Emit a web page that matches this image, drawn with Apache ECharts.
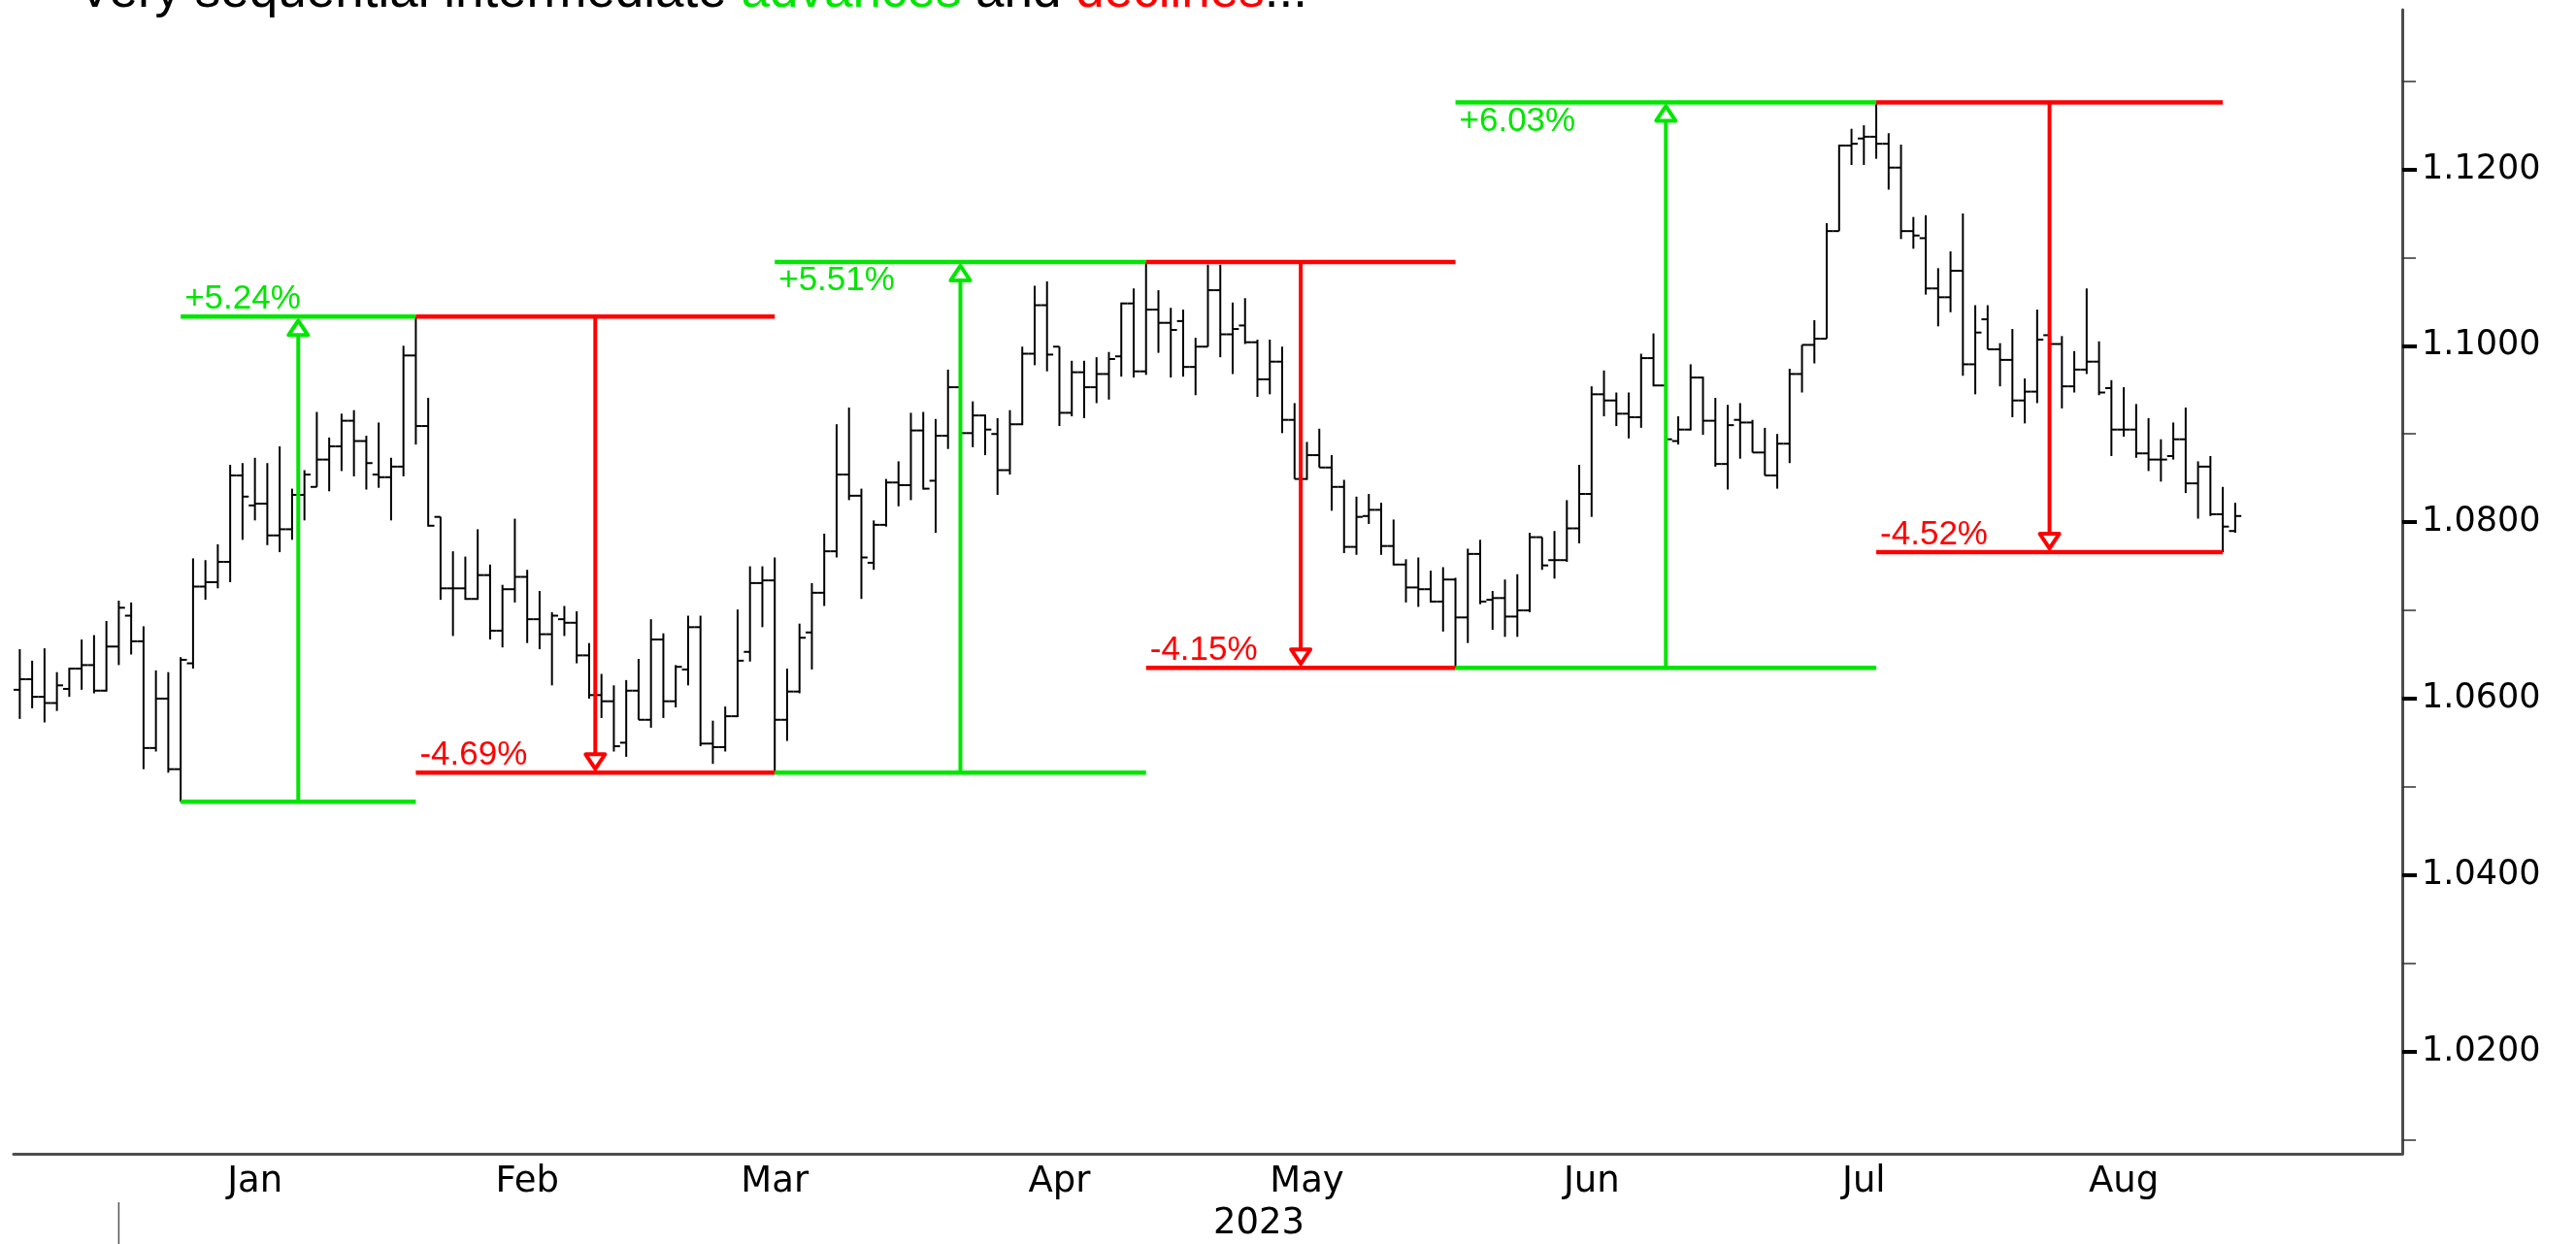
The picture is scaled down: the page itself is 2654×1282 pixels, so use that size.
<!DOCTYPE html>
<html lang="en">
<head>
<meta charset="UTF-8">
<title>EUR/USD swings 2023</title>
<script src="https://cdn.jsdelivr.net/npm/echarts@6.0.0/dist/echarts.min.js"></script>
<style>
html, body { margin: 0; padding: 0; background: #fff; }
#main { width: 2654px; height: 1282px; }
</style>
</head>
<body>
<div id="main"></div>
<script>
// daily bars, Dec 20 2022 .. Aug 28 2023 (one line per month)
var opens = [
    1.0610,1.0622,1.0602,1.0595,1.0611,1.0634,1.0638,1.0609,1.0659,
    1.0694,1.0665,1.0544,1.0600,1.0520,1.0640,1.0727,1.0732,1.0755,1.0853,1.0819,1.0821,1.0785,1.0792,1.0831,1.0840,1.0871,1.0886,1.0915,1.0892,1.0854,1.0851,
    1.0863,1.0989,1.0909,1.0806,1.0725,1.0725,1.0713,1.0740,1.0677,1.0724,1.0738,1.0690,1.0673,1.0690,1.0686,1.0649,1.0604,1.0597,1.0550,1.0609,
    1.0576,1.0667,1.0597,1.0633,1.0681,1.0549,1.0545,1.0580,1.0653,1.0731,1.0734,1.0576,1.0608,1.0675,1.0720,1.0767,1.0854,1.0830,1.0754,1.0797,1.0845,1.0842,1.0904,
    1.0847,1.0898,1.0953,1.0901,1.0921,1.0900,1.0859,1.0911,1.0991,1.1046,1.0999,1.0924,1.0970,1.0953,1.0968,1.0988,1.1048,1.0971,1.1041,1.1026,
    1.1028,1.0976,1.0999,1.1063,1.1013,1.1023,1.1004,1.0962,1.0982,1.0916,1.0849,1.0876,1.0862,1.0840,1.0772,1.0807,1.0814,1.0773,1.0752,1.0726,1.0724,1.0710,1.0735,
    1.0692,1.0764,1.0712,1.0714,1.0693,1.0700,1.0783,1.0757,1.0757,1.0793,1.0832,1.0945,1.0938,1.0923,1.0919,1.0986,1.0955,1.0892,1.0905,1.0964,1.0915,1.0866,
    1.0916,1.0913,1.0879,1.0853,1.0889,1.0968,1.1001,1.1008,1.1130,1.1227,1.1235,1.1237,1.1229,1.1202,1.1130,1.1122,1.1065,1.1055,1.1085,1.0979,1.1030,
    1.0996,1.0984,1.0938,1.0948,1.1012,1.1002,1.0954,1.0973,1.0982,1.0952,1.0905,1.0905,1.0878,1.0871,1.0875,1.0894,1.0844,1.0863,1.0809,1.0790
];
var highs = [
    1.0656,1.0643,1.0657,1.0630,1.0635,1.0667,1.0672,1.0688,1.0711,
    1.0709,1.0682,1.0632,1.0630,1.0647,1.0759,1.0757,1.0775,1.0865,1.0867,1.0873,1.0867,1.0886,1.0838,1.0859,1.0925,1.0896,1.0923,1.0927,1.0898,1.0913,1.0873,
    1.1000,1.1033,1.0941,1.0806,1.0767,1.0761,1.0792,1.0752,1.0729,1.0804,1.0746,1.0722,1.0698,1.0705,1.0699,1.0663,1.0628,1.0615,1.0621,1.0645,
    1.0690,1.0674,1.0638,1.0694,1.0694,1.0575,1.0591,1.0701,1.0750,1.0750,1.0760,1.0634,1.0685,1.0731,1.0787,1.0911,1.0930,1.0838,1.0802,1.0849,1.0869,1.0924,1.0925,
    1.0917,1.0973,1.0970,1.0937,1.0922,1.0918,1.0927,1.0999,1.1068,1.1073,1.0999,1.0983,1.0983,1.0987,1.0993,1.1049,1.1065,1.1095,1.1063,1.1043,
    1.1041,1.1009,1.1092,1.1092,1.1049,1.1054,1.1007,1.1007,1.0999,1.0935,1.0891,1.0906,1.0876,1.0848,1.0829,1.0832,1.0822,1.0803,1.0758,1.0760,1.0745,1.0749,1.0737,
    1.0770,1.0780,1.0722,1.0735,1.0741,1.0788,1.0783,1.0790,1.0825,1.0865,1.0954,1.0972,1.0947,1.0947,1.0991,1.1014,1.0960,1.0920,1.0979,1.0965,1.0941,1.0933,
    1.0935,1.0916,1.0907,1.0900,1.0974,1.1001,1.1029,1.1139,1.1228,1.1246,1.1250,1.1276,1.1241,1.1228,1.1146,1.1148,1.1088,1.1107,1.1150,1.1046,1.1046,
    1.1003,1.1019,1.0963,1.1041,1.1040,1.1011,1.0994,1.1065,1.1005,1.0961,1.0953,1.0934,1.0918,1.0894,1.0913,1.0930,1.0869,1.0875,1.0840,1.0822
];
var lows = [
    1.0577,1.0589,1.0573,1.0586,1.0602,1.0610,1.0606,1.0608,1.0638,
    1.0650,1.0520,1.0540,1.0516,1.0483,1.0634,1.0712,1.0725,1.0732,1.0780,1.0802,1.0774,1.0766,1.0780,1.0802,1.0840,1.0835,1.0858,1.0852,1.0837,1.0839,1.0802,
    1.0852,1.0888,1.0795,1.0712,1.0671,1.0712,1.0712,1.0667,1.0658,1.0709,1.0663,1.0656,1.0615,1.0671,1.0640,1.0600,1.0578,1.0540,1.0534,1.0576,
    1.0567,1.0578,1.0590,1.0615,1.0546,1.0526,1.0540,1.0579,1.0642,1.0681,1.0516,1.0552,1.0606,1.0633,1.0705,1.0760,1.0825,1.0713,1.0746,1.0795,1.0818,1.0825,1.0837,
    1.0788,1.0883,1.0880,1.0885,1.0876,1.0831,1.0854,1.0910,1.0978,1.0971,1.0909,1.0920,1.0918,1.0935,1.0939,1.0965,1.0964,1.0967,1.0992,1.0964,
    1.0965,1.0944,1.0999,1.0987,1.0968,1.1002,1.0942,1.0945,1.0901,1.0849,1.0848,1.0862,1.0813,1.0765,1.0763,1.0798,1.0763,1.0751,1.0709,1.0704,1.0709,1.0676,1.0635,
    1.0663,1.0707,1.0678,1.0670,1.0670,1.0698,1.0746,1.0736,1.0755,1.0776,1.0806,1.0920,1.0909,1.0895,1.0907,1.0954,1.0850,1.0888,1.0904,1.0899,1.0863,1.0837,
    1.0872,1.0879,1.0853,1.0838,1.0867,1.0947,1.0980,1.1008,1.1130,1.1205,1.1205,1.1212,1.1177,1.1121,1.1110,1.1058,1.1022,1.1038,1.0966,1.0945,1.0996,
    1.0954,1.0919,1.0912,1.0935,1.0980,1.0929,1.0947,1.0968,1.0944,1.0875,1.0897,1.0873,1.0858,1.0846,1.0871,1.0833,1.0804,1.0807,1.0766,1.0788
];
var closes = [
    1.0622,1.0602,1.0595,1.0615,1.0634,1.0638,1.0609,1.0659,1.0703,
    1.0665,1.0544,1.0600,1.0520,1.0644,1.0727,1.0732,1.0755,1.0853,1.0829,1.0821,1.0785,1.0792,1.0831,1.0854,1.0871,1.0886,1.0915,1.0892,1.0867,1.0851,1.0863,
    1.0989,1.0909,1.0796,1.0725,1.0725,1.0713,1.0740,1.0677,1.0724,1.0738,1.0690,1.0673,1.0694,1.0686,1.0649,1.0604,1.0597,1.0546,1.0609,1.0576,
    1.0667,1.0597,1.0636,1.0681,1.0549,1.0545,1.0580,1.0643,1.0731,1.0734,1.0576,1.0608,1.0669,1.0720,1.0767,1.0854,1.0830,1.0760,1.0797,1.0845,1.0842,1.0904,1.0838,
    1.0898,1.0953,1.0901,1.0921,1.0905,1.0859,1.0911,1.0991,1.1046,1.0990,1.0924,1.0970,1.0953,1.0968,1.0985,1.1048,1.0971,1.1041,1.1026,1.1018,
    1.0976,1.0999,1.1063,1.1013,1.1019,1.1004,1.0962,1.0982,1.0916,1.0849,1.0876,1.0862,1.0840,1.0772,1.0806,1.0814,1.0773,1.0752,1.0726,1.0724,1.0710,1.0735,1.0692,
    1.0764,1.0710,1.0714,1.0693,1.0700,1.0783,1.0751,1.0757,1.0793,1.0832,1.0945,1.0938,1.0923,1.0919,1.0986,1.0955,1.0894,1.0905,1.0964,1.0915,1.0866,1.0910,
    1.0913,1.0879,1.0853,1.0889,1.0968,1.1001,1.1008,1.1130,1.1227,1.1229,1.1237,1.1229,1.1202,1.1130,1.1125,1.1065,1.1055,1.1085,1.0979,1.1015,1.0996,
    1.0984,1.0938,1.0948,1.1007,1.1002,1.0954,1.0973,1.0982,1.0947,1.0905,1.0905,1.0878,1.0871,1.0871,1.0894,1.0844,1.0863,1.0809,1.0795,1.0807
];

// swings: bar index where it starts / ends, price from / to, label
var moveStart = [13, 32, 61, 91, 116, 150];
var moveEnd   = [32, 61, 91, 116, 150, 178];
var moveFrom  = [1.0483, 1.1033, 1.0516, 1.1095, 1.0635, 1.1276];
var moveTo    = [1.1033, 1.0516, 1.1095, 1.0635, 1.1276, 1.0766];
var moveText  = ['+5.24%', '-4.69%', '+5.51%', '-4.15%', '+6.03%', '-4.52%'];

var majorTicks = [1.02, 1.04, 1.06, 1.08, 1.10, 1.12];
var minorTicks = [1.01, 1.03, 1.05, 1.07, 1.09, 1.11, 1.13];
var monthNames = ['Jan', 'Feb', 'Mar', 'Apr', 'May', 'Jun', 'Jul', 'Aug'];
var headline = ['Very sequential intermediate ', 'advances', ' and ', 'declines', '...'];

var GREEN = '#00e600';
var RED = '#ff0000';
var AXIS_FONT = 'DejaVu Sans';

// weekday categories, axis runs a bit past the last bar
var axisDays = 193;
var dates = [];
for (var t = Date.UTC(2022, 11, 20); dates.length < axisDays; t += 86400000) {
    var wd = new Date(t).getUTCDay();
    if (wd !== 0 && wd !== 6) dates.push(new Date(t).toISOString().slice(0, 10));
}
function isMonthEnd(i) {
    return i + 1 < dates.length && dates[i].slice(5, 7) !== dates[i + 1].slice(5, 7);
}
function isMonthLabel(i) {
    var d = dates[i];
    if (d.slice(0, 4) !== '2023' || +d.slice(8, 10) < 15) return false;
    return i === 0 || dates[i - 1].slice(5, 7) !== d.slice(5, 7) || +dates[i - 1].slice(8, 10) < 15;
}

var bars = closes.map(function (c, i) {
    return [i, opens[i], highs[i], lows[i], c];
});
var moves = moveStart.map(function (s, i) {
    return [s, moveEnd[i], moveFrom[i], moveTo[i]];
});
var labelBelow = [false, false, true, false, true, false];

function renderBar(params, api) {
    var x = api.value(0);
    var o = api.coord([x, api.value(1)]);
    var h = api.coord([x, api.value(2)]);
    var l = api.coord([x, api.value(3)]);
    var c = api.coord([x, api.value(4)]);
    var half = api.size([1, 0])[0] / 2;
    var st = { stroke: '#000', lineWidth: 2 };
    return {
        type: 'group',
        children: [
            { type: 'line', shape: { x1: h[0], y1: h[1], x2: l[0], y2: l[1] }, style: st },
            { type: 'line', shape: { x1: o[0] - half, y1: o[1], x2: o[0], y2: o[1] }, style: st },
            { type: 'line', shape: { x1: c[0], y1: c[1], x2: c[0] + half, y2: c[1] }, style: st }
        ]
    };
}

function renderMove(params, api) {
    var i = params.dataIndex;
    var a = api.coord([api.value(0), api.value(2)]);
    var b = api.coord([api.value(1), api.value(3)]);
    var up = api.value(3) > api.value(2);
    var color = up ? GREEN : RED;
    var x1 = a[0], x2 = b[0], yFrom = a[1], yTo = b[1];
    var xm = (x1 + x2) / 2;
    var dir = up ? 1 : -1;
    var tip = yTo + dir * 4;
    var base = tip + dir * 15;
    var lw = 4.5;
    var below = labelBelow[i];
    return {
        type: 'group',
        children: [
            { type: 'line', shape: { x1: x1, y1: yFrom, x2: x2, y2: yFrom }, style: { stroke: color, lineWidth: lw } },
            { type: 'line', shape: { x1: x1, y1: yTo, x2: x2, y2: yTo }, style: { stroke: color, lineWidth: lw } },
            { type: 'line', shape: { x1: xm, y1: yFrom, x2: xm, y2: base }, style: { stroke: color, lineWidth: 4 } },
            { type: 'polygon', shape: { points: [[xm, tip], [xm - 10, base], [xm + 10, base]] },
              style: { fill: '#fff', stroke: color, lineWidth: 4, lineJoin: 'round' } },
            { type: 'text', x: x1 + 4, y: below ? yTo + 2 : yTo,
              style: { text: moveText[i], fill: color, fontSize: 35, fontFamily: 'Liberation Sans',
                       align: 'left', verticalAlign: below ? 'top' : 'bottom' } }
        ]
    };
}

var yMin = 1.0084, yMax = 1.1381;

var chart = echarts.init(document.getElementById('main'));
chart.setOption({
    animation: false,
    backgroundColor: '#fff',
    grid: { left: 14, right: 179, top: 10, bottom: 93 },
    xAxis: {
        type: 'category',
        data: dates,
        boundaryGap: true,
        axisLine: { lineStyle: { color: '#4d4d4d', width: 3 } },
        axisTick: {
            alignWithLabel: true,
            interval: function (i) { return isMonthEnd(i); },
            length: 12,
            lineStyle: { color: '#333', width: 1.5 }
        },
        axisLabel: {
            interval: function (i) { return isMonthLabel(i); },
            formatter: function (v) { return monthNames[+v.slice(5, 7) - 1]; },
            fontSize: 37,
            fontFamily: AXIS_FONT,
            color: '#000',
            margin: 11
        },
        splitLine: { show: false }
    },
    yAxis: [{
        type: 'value',
        position: 'right',
        min: yMin,
        max: yMax,
        axisLine: { show: true, lineStyle: { color: '#4d4d4d', width: 3 } },
        axisTick: { show: true, customValues: majorTicks, length: 15, lineStyle: { color: '#000', width: 4 } },
        axisLabel: {
            customValues: majorTicks,
            formatter: function (v) { return v.toFixed(4); },
            fontSize: 35,
            fontFamily: AXIS_FONT,
            color: '#000',
            margin: 20
        },
        splitLine: { show: false }
    }, {
        type: 'value',
        position: 'right',
        min: yMin,
        max: yMax,
        axisLine: { show: false },
        axisTick: { show: true, customValues: minorTicks, length: 14, lineStyle: { color: '#333', width: 1.5 } },
        axisLabel: { show: false },
        splitLine: { show: false }
    }],
    series: [{
        type: 'custom',
        renderItem: renderBar,
        data: bars,
        encode: { x: 0, y: [1, 2, 3, 4] },
        z: 2
    }, {
        type: 'custom',
        renderItem: renderMove,
        data: moves,
        encode: { x: [0, 1], y: [2, 3] },
        clip: false,
        z: 5
    }]
});

// year marker under the January tick and the headline cut off at the top
var firstTick = 0;
while (!isMonthEnd(firstTick)) firstTick++;
var yearX = chart.convertToPixel({ xAxisIndex: 0 }, dates[firstTick]);
var rich = {
    k: { fill: '#000', fontSize: 53, fontFamily: 'Liberation Sans' },
    g: { fill: GREEN, fontSize: 53, fontFamily: 'Liberation Sans' },
    r: { fill: RED, fontSize: 53, fontFamily: 'Liberation Sans' }
};
var headStr = '{k|' + headline[0] + '}{g|' + headline[1] + '}{k|' + headline[2] + '}{r|' + headline[3] + '}{k|' + headline[4] + '}';
chart.setOption({
    graphic: [
        { type: 'line', shape: { x1: yearX, y1: 1239, x2: yearX, y2: 1282 }, style: { stroke: '#555', lineWidth: 1.5 } },
        { type: 'text', x: 1297, y: 1261, style: { text: '2023', fontSize: 37, fontFamily: AXIS_FONT, fill: '#000', align: 'center', verticalAlign: 'middle' } },
        { type: 'text', x: 80, y: -8, style: { text: headStr, rich: rich, fontSize: 53, fontFamily: 'Liberation Sans', verticalAlign: 'middle' } }
    ]
});
</script>
</body>
</html>
